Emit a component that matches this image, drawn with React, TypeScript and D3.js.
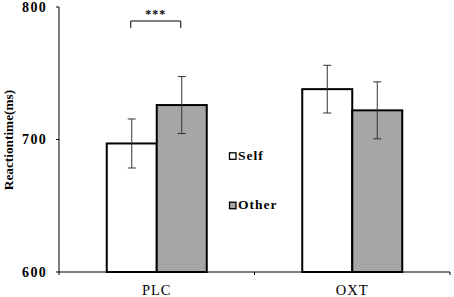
import React from "react";
import * as d3 from "d3";

const categories = ["PLC", "OXT"];
const seriesNames = ["Self", "Other"];
const selfValues = [697, 738];
const otherValues = [726, 722];
const selfErrors = [18.5, 18];
const otherErrors = [21.5, 21.5];
const yTicks = [600, 700, 800];

const W = 454;
const H = 297;
const font = "'Liberation Serif', 'Times New Roman', serif";

export default function App() {
  const x = d3.scaleBand<string>().domain(categories).range([59, 450]).paddingInner(0).paddingOuter(0);
  const y = d3.scaleLinear().domain([600, 800]).range([272, 7]);
  const inner = d3.scaleBand<string>().domain(seriesNames).range([0, 100]);
  const fills = ["#ffffff", "#a6a6a6"];
  const values = [selfValues, otherValues];
  const errs = [selfErrors, otherErrors];
  const groupOffset = (x.bandwidth() - 100) / 2;

  const bars: any[] = [];
  categories.forEach((c, ci) => {
    seriesNames.forEach((s, si) => {
      const x0 = (x(c) as number) + groupOffset + (inner(s) as number);
      bars.push({ x0, w: inner.bandwidth(), v: values[si][ci], e: errs[si][ci], fill: fills[si], key: c + s });
    });
  });

  const plcSelf = bars[0];
  const plcOther = bars[1];
  const bx1 = plcSelf.x0 + plcSelf.w / 2 - 1;
  const bx2 = plcOther.x0 + plcOther.w / 2 - 1;

  return (
    <svg width={W} height={H} style={{ position: "absolute", left: 0, top: 0, background: "#fff" }}>
      {bars.map((b) => (
        <g key={b.key}>
          <rect x={b.x0} y={y(b.v)} width={b.w} height={y(600) - y(b.v)} fill={b.fill} stroke="#000" strokeWidth={2} />
          <line x1={b.x0 + b.w / 2} x2={b.x0 + b.w / 2} y1={y(b.v + b.e)} y2={y(b.v - b.e)} stroke="#333" strokeWidth={1} />
          <line x1={b.x0 + b.w / 2 - 4} x2={b.x0 + b.w / 2 + 4} y1={y(b.v + b.e)} y2={y(b.v + b.e)} stroke="#333" strokeWidth={1} />
          <line x1={b.x0 + b.w / 2 - 4} x2={b.x0 + b.w / 2 + 4} y1={y(b.v - b.e)} y2={y(b.v - b.e)} stroke="#333" strokeWidth={1} />
        </g>
      ))}
      {/* y axis */}
      <line x1={59} x2={59} y1={y(800)} y2={y(600)} stroke="#000" strokeWidth={1} />
      {yTicks.map((t) => (
        <g key={t}>
          <line x1={56} x2={59} y1={y(t)} y2={y(t)} stroke="#000" strokeWidth={1} />
          <text x={47} y={y(t) + 4.8} textAnchor="end" fontFamily={font} fontWeight="bold" fontSize={14} letterSpacing={1.3} fill="#000">
            {t}
          </text>
        </g>
      ))}
      {/* x axis */}
      <line x1={59} x2={450} y1={y(600)} y2={y(600)} stroke="#000" strokeWidth={1.2} />
      {[59, ...categories.map((c) => (x(c) as number) + x.bandwidth())].map((tx, i) => (
        <line key={i} x1={tx} x2={tx} y1={y(600)} y2={y(600) + 3} stroke="#000" strokeWidth={1} />
      ))}
      {categories.map((c) => (
        <text key={c} x={(x(c) as number) + x.bandwidth() / 2} y={295} textAnchor="middle" fontFamily={font} fontSize={14.5} fill="#000" letterSpacing={1}>
          {c}
        </text>
      ))}
      {/* y label */}
      <text transform={`translate(13,140) rotate(-90)`} textAnchor="middle" fontFamily={font} fontWeight="bold" fontSize={13.3} fill="#000">
        Reactiontime(ms)
      </text>
      {/* significance */}
      <path d={`M${bx1},28 L${bx1},21 L${bx2},21 L${bx2},28`} fill="none" stroke="#000" strokeWidth={1} />
      <text x={(bx1 + bx2) / 2} y={18} textAnchor="middle" fontFamily={font} fontWeight="bold" fontSize={12} letterSpacing={1} fill="#000">
        ***
      </text>
      {/* legend */}
      {seriesNames.map((s, i) => {
        const ly = [155.8, 205.2][i];
        return (
          <g key={s}>
            <rect x={229.5} y={ly - 3} width={6.5} height={6.5} fill={fills[i]} stroke="#000" strokeWidth={1.3} />
            <text x={238} y={ly + 4.2} fontFamily={font} fontWeight="bold" fontSize={13.5} letterSpacing={1} fill="#000">
              {s}
            </text>
          </g>
        );
      })}
    </svg>
  );
}
